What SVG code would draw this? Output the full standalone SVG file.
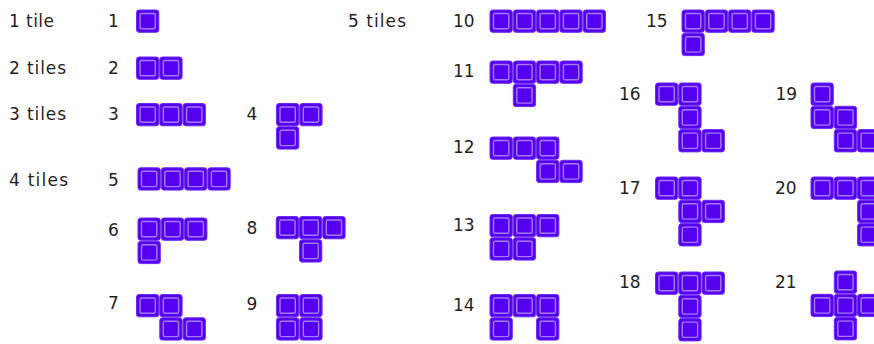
<svg xmlns="http://www.w3.org/2000/svg" xmlns:xlink="http://www.w3.org/1999/xlink" width="874" height="344" viewBox="0 0 874 344">
<style>
text{font-family:"DejaVu Sans","Open Sans",sans-serif;font-size:17px;fill:#1f1f1f}
</style>
<defs>
<g id="t">
<rect x="0.5" y="0.5" width="22.3" height="22.3" rx="2.5" fill="#5500ee" stroke="#6d2bf5" stroke-width="1"/>
<rect x="4" y="4" width="15.3" height="15.3" rx="1.5" fill="none" stroke="#a37cff" stroke-width="1.4"/>
</g>
</defs>
<rect width="874" height="344" fill="#fff"/>
<g id="labels">
<text x="9" y="27" textLength="45" lengthAdjust="spacing">1 tile</text>
<text x="9" y="74" textLength="57" lengthAdjust="spacing">2 tiles</text>
<text x="9" y="120" textLength="57" lengthAdjust="spacing">3 tiles</text>
<text x="9" y="185.5" textLength="59" lengthAdjust="spacing">4 tiles</text>
<text x="348" y="26.7" textLength="58" lengthAdjust="spacing">5 tiles</text>
</g>
<g id="s1"><text x="108" y="27">1</text><use href="#t" x="136" y="9.5"/></g>
<g id="s2"><text x="108" y="74">2</text>
<g transform="translate(136,56.5)"><use href="#t" x="0" y="0"/><use href="#t" x="23.3" y="0"/></g></g>
<g id="s3"><text x="108" y="120">3</text>
<g transform="translate(136,103)"><use href="#t" x="0" y="0"/><use href="#t" x="23.3" y="0"/><use href="#t" x="46.6" y="0"/></g></g>
<g id="s4"><text x="246.5" y="120">4</text>
<g transform="translate(276,103)"><use href="#t" x="0" y="0"/><use href="#t" x="23.3" y="0"/><use href="#t" x="0" y="23.3"/></g></g>
<g id="s5"><text x="108" y="185.5">5</text>
<g transform="translate(137.5,167.3)"><use href="#t" x="0" y="0"/><use href="#t" x="23.3" y="0"/><use href="#t" x="46.6" y="0"/><use href="#t" x="69.9" y="0"/></g></g>
<g id="s6"><text x="108" y="235.5">6</text>
<g transform="translate(137.5,217.5)"><use href="#t" x="0" y="0"/><use href="#t" x="23.3" y="0"/><use href="#t" x="46.6" y="0"/><use href="#t" x="0" y="23.3"/></g></g>
<g id="s7"><text x="108" y="309">7</text>
<g transform="translate(136,294)"><use href="#t" x="0" y="0"/><use href="#t" x="23.3" y="0"/><use href="#t" x="23.3" y="23.3"/><use href="#t" x="46.6" y="23.3"/></g></g>
<g id="s8"><text x="246.5" y="234">8</text>
<g transform="translate(275.7,216)"><use href="#t" x="0" y="0"/><use href="#t" x="23.3" y="0"/><use href="#t" x="46.6" y="0"/><use href="#t" x="23.3" y="23.3"/></g></g>
<g id="s9"><text x="246.5" y="310">9</text>
<g transform="translate(276,294)"><use href="#t" x="0" y="0"/><use href="#t" x="23.3" y="0"/><use href="#t" x="0" y="23.3"/><use href="#t" x="23.3" y="23.3"/></g></g>
<g id="s10"><text x="453" y="26.7">10</text>
<g transform="translate(489.5,9.5)"><use href="#t" x="0" y="0"/><use href="#t" x="23.3" y="0"/><use href="#t" x="46.6" y="0"/><use href="#t" x="69.9" y="0"/><use href="#t" x="93.2" y="0"/></g></g>
<g id="s11"><text x="453" y="77">11</text>
<g transform="translate(489.5,60.5)"><use href="#t" x="0" y="0"/><use href="#t" x="23.3" y="0"/><use href="#t" x="46.6" y="0"/><use href="#t" x="69.9" y="0"/><use href="#t" x="23.3" y="23.3"/></g></g>
<g id="s12"><text x="453" y="153">12</text>
<g transform="translate(489.5,136.5)"><use href="#t" x="0" y="0"/><use href="#t" x="23.3" y="0"/><use href="#t" x="46.6" y="0"/><use href="#t" x="46.6" y="23.3"/><use href="#t" x="69.9" y="23.3"/></g></g>
<g id="s13"><text x="453" y="230.7">13</text>
<g transform="translate(489.5,214)"><use href="#t" x="0" y="0"/><use href="#t" x="23.3" y="0"/><use href="#t" x="46.6" y="0"/><use href="#t" x="0" y="23.3"/><use href="#t" x="23.3" y="23.3"/></g></g>
<g id="s14"><text x="453" y="310.7">14</text>
<g transform="translate(489.5,294)"><use href="#t" x="0" y="0"/><use href="#t" x="23.3" y="0"/><use href="#t" x="46.6" y="0"/><use href="#t" x="0" y="23.3"/><use href="#t" x="46.6" y="23.3"/></g></g>
<g id="s15"><text x="646" y="26.7">15</text>
<g transform="translate(681.5,9.5)"><use href="#t" x="0" y="0"/><use href="#t" x="23.3" y="0"/><use href="#t" x="46.6" y="0"/><use href="#t" x="69.9" y="0"/><use href="#t" x="0" y="23.3"/></g></g>
<g id="s16"><text x="619" y="100">16</text>
<g transform="translate(655,82.5)"><use href="#t" x="0" y="0"/><use href="#t" x="23.3" y="0"/><use href="#t" x="23.3" y="23.3"/><use href="#t" x="23.3" y="46.6"/><use href="#t" x="46.6" y="46.6"/></g></g>
<g id="s17"><text x="619" y="194">17</text>
<g transform="translate(655,176.5)"><use href="#t" x="0" y="0"/><use href="#t" x="23.3" y="0"/><use href="#t" x="23.3" y="23.3"/><use href="#t" x="46.6" y="23.3"/><use href="#t" x="23.3" y="46.6"/></g></g>
<g id="s18"><text x="619" y="288">18</text>
<g transform="translate(655,271.5)"><use href="#t" x="0" y="0"/><use href="#t" x="23.3" y="0"/><use href="#t" x="46.6" y="0"/><use href="#t" x="23.3" y="23.3"/><use href="#t" x="23.3" y="46.6"/></g></g>
<g id="s19"><text x="775.5" y="100">19</text>
<g transform="translate(810.5,82.5)"><use href="#t" x="0" y="0"/><use href="#t" x="0" y="23.3"/><use href="#t" x="23.3" y="23.3"/><use href="#t" x="23.3" y="46.6"/><use href="#t" x="46.6" y="46.6"/></g></g>
<g id="s20"><text x="775" y="194">20</text>
<g transform="translate(810.5,176.5)"><use href="#t" x="0" y="0"/><use href="#t" x="23.3" y="0"/><use href="#t" x="46.6" y="0"/><use href="#t" x="46.6" y="23.3"/><use href="#t" x="46.6" y="46.6"/></g></g>
<g id="s21"><text x="775" y="288">21</text>
<g transform="translate(810.5,270.5)"><use href="#t" x="23.3" y="0"/><use href="#t" x="0" y="23.3"/><use href="#t" x="23.3" y="23.3"/><use href="#t" x="46.6" y="23.3"/><use href="#t" x="23.3" y="46.6"/></g></g>
<g id="connectors"/>
</svg>
